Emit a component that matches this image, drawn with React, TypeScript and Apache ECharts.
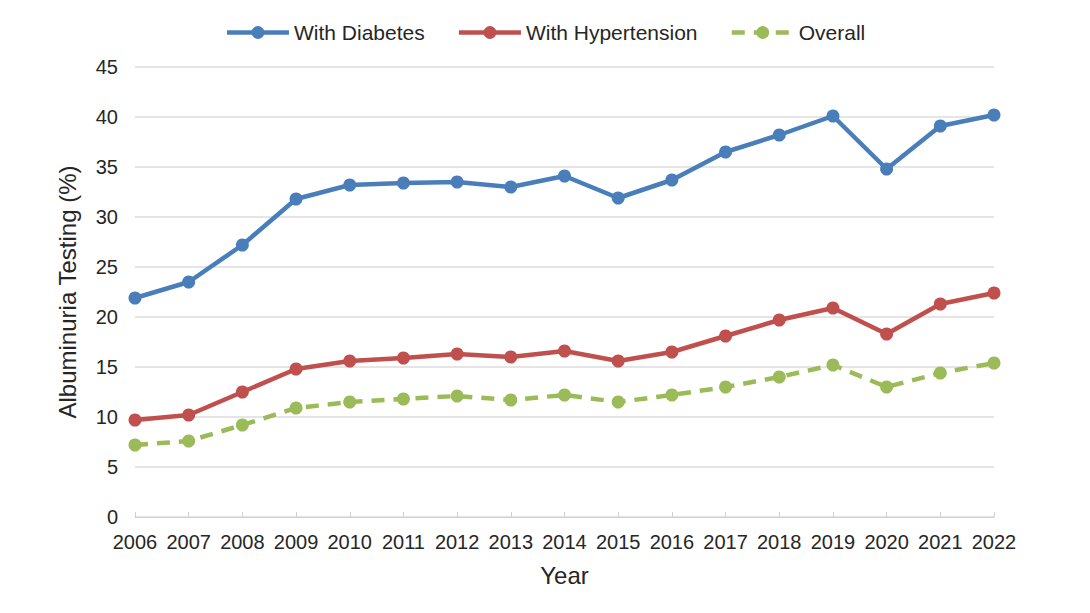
import React, { useEffect, useRef } from "react";
import * as echarts from "echarts";

const years = ["2006","2007","2008","2009","2010","2011","2012","2013","2014","2015","2016","2017","2018","2019","2020","2021","2022"];
const diabetes = [21.9, 23.5, 27.2, 31.8, 33.2, 33.4, 33.5, 33.0, 34.1, 31.9, 33.7, 36.5, 38.2, 40.1, 34.8, 39.1, 40.2];
const hypertension = [9.7, 10.2, 12.5, 14.8, 15.6, 15.9, 16.3, 16.0, 16.6, 15.6, 16.5, 18.1, 19.7, 20.9, 18.3, 21.3, 22.4];
const overall = [7.2, 7.6, 9.2, 10.9, 11.5, 11.8, 12.1, 11.7, 12.2, 11.5, 12.2, 13.0, 14.0, 15.2, 13.0, 14.4, 15.4];

const FONT = "Liberation Sans, Arial, sans-serif";

export default function App() {
  const ref = useRef<HTMLDivElement>(null);
  useEffect(() => {
    if (!ref.current) return;
    const chart = echarts.init(ref.current, undefined, { renderer: "svg" });
    const mk = (name: string, data: number[], color: string, dashed: boolean) => ({
      name,
      type: "line",
      data,
      symbol: "circle",
      symbolSize: 13,
      itemStyle: { color },
      lineStyle: { color, width: 4.5, type: dashed ? [13, 9] : "solid" },
    });
    chart.setOption({
      animation: false,
      backgroundColor: "#ffffff",
      textStyle: { fontFamily: FONT },
      legend: {
        top: 17,
        left: "center",
        itemWidth: 62,
        itemHeight: 16,
        itemGap: 32,
        lineStyle: { width: 4.5 },
        textStyle: { fontSize: 21, color: "#262626", fontFamily: FONT },
        data: ["With Diabetes", "With Hypertension", "Overall"],
      },
      grid: { left: 135, right: 96, top: 67, bottom: 96, containLabel: false },
      xAxis: {
        type: "category",
        data: years,
        boundaryGap: false,
        name: "Year",
        nameLocation: "middle",
        nameGap: 46,
        nameTextStyle: { fontSize: 24, color: "#262626", fontFamily: FONT },
        axisLine: { lineStyle: { color: "#d0d0d0", width: 1 } },
        axisTick: { show: true, inside: true, alignWithLabel: true, length: 5, lineStyle: { color: "#d0d0d0" } },
        axisLabel: { fontSize: 20, color: "#262626", margin: 15, interval: 0, fontFamily: FONT },
        splitLine: { show: false },
      },
      yAxis: {
        type: "value",
        min: 0,
        max: 45,
        interval: 5,
        name: "Albuminuria Testing (%)",
        nameLocation: "middle",
        nameGap: 56,
        nameTextStyle: { fontSize: 24, color: "#262626", fontFamily: FONT },
        axisLine: { show: false },
        axisTick: { show: false },
        axisLabel: { fontSize: 20, color: "#262626", margin: 17, fontFamily: FONT },
        splitLine: { lineStyle: { color: "#dcdcdc", width: 1.5 } },
      },
      series: [
        mk("With Diabetes", diabetes, "#4a7ebb", false),
        mk("With Hypertension", hypertension, "#c0504d", false),
        mk("Overall", overall, "#9bbb59", true),
      ],
    });
    return () => chart.dispose();
  }, []);
  return <div ref={ref} style={{ position: "fixed", left: 0, top: 0, width: 1090, height: 613 }} />;
}
